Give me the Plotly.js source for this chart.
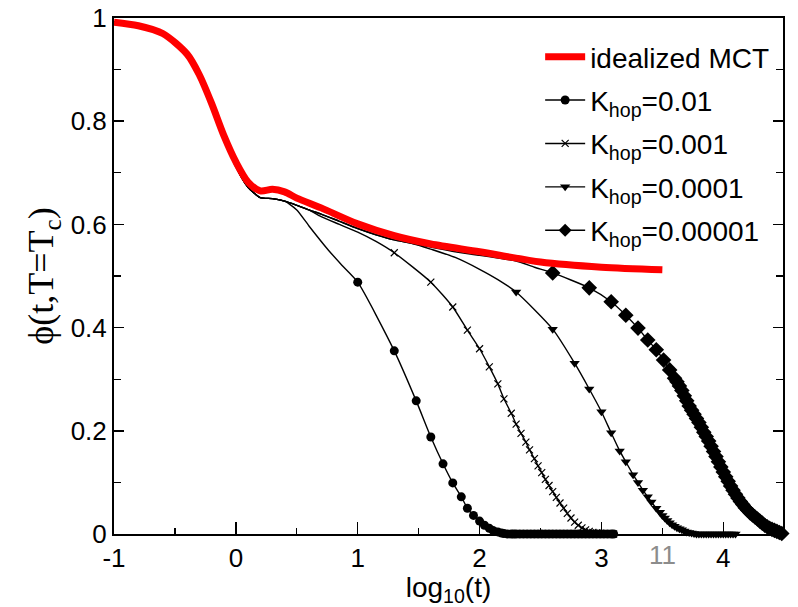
<!DOCTYPE html>
<html>
<head>
<meta charset="utf-8">
<script src="https://cdn.plot.ly/plotly-3.0.1.min.js"></script>
<style>html,body{margin:0;padding:0;background:#fff;}#chart{width:798px;height:607px;}</style>
</head>
<body>
<div id="chart"></div>
<script>
// ---- data (x = log10(t), y = phi) ----
const mctX = [-1, -0.8, -0.6, -0.4, -0.3, -0.2, -0.1, 0, 0.1, 0.2, 0.3, 0.4, 0.5, 0.7, 1.0, 1.3, 1.6, 2.0, 2.5, 3.0, 3.5];
const mctY = [0.992, 0.985, 0.970, 0.930, 0.890, 0.835, 0.773, 0.721, 0.682, 0.665, 0.668, 0.663, 0.651, 0.632, 0.601, 0.578, 0.562, 0.547, 0.527, 0.517, 0.512];

// shared short-time part of the black curves
const earlyX = [-1, -0.8, -0.6, -0.4, -0.3, -0.2, -0.1, 0, 0.1, 0.2, 0.3, 0.4];
const earlyY = [0.992, 0.985, 0.969, 0.928, 0.887, 0.832, 0.768, 0.712, 0.672, 0.652, 0.650, 0.645];
// shared plateau part (just below the red curve)
const plateauX = [0.5, 0.6, 0.7, 0.85, 1.0, 1.15, 1.3, 1.45, 1.6, 1.8, 2.0, 2.15, 2.3, 2.45];
const plateauY = [0.637, 0.628, 0.620, 0.606, 0.592, 0.580, 0.570, 0.563, 0.556, 0.547, 0.540, 0.535, 0.529, 0.520];

// K_hop = 0.01 (circles)
const k1DepX = [0.5, 0.6, 0.76, 0.87];
const k1DepY = [0.628, 0.597, 0.550, 0.521];
const k1X = [1.00,1.30,1.48,1.60,1.70,1.78,1.85,1.90,1.95,2.00,2.04,2.08,2.11,2.15,2.18,2.20,2.23,2.26,2.28,2.30,2.33,2.36,2.39,2.42,2.45,2.48,2.51,2.54,2.57,2.60,2.63,2.66,2.69,2.72,2.75,2.78,2.81,2.84,2.87,2.90,2.93,2.96,2.99,3.02,3.05,3.08,3.10];
const k1Y = [0.488,0.355,0.258,0.188,0.136,0.099,0.072,0.050,0.036,0.025,0.017,0.011,0.007,0.004,0.002,0.001,0,0,0,0,0,0,0,0,0,0,0,0,0,0,0,0,0,0,0,0,0,0,0,0,0,0,0,0,0,0,0];

// K_hop = 0.001 (crosses)
const k2DepX = [0.7, 0.85, 1.0, 1.15];
const k2DepY = [0.615, 0.600, 0.585, 0.567];
const k2X = [1.30,1.60,1.78,1.90,2.00,2.08,2.15,2.20,2.26,2.30,2.34,2.38,2.41,2.45,2.48,2.51,2.54,2.57,2.60,2.63,2.66,2.69,2.72,2.75,2.78,2.81,2.84,2.87,2.90,2.93,2.96,2.99,3.02,3.05,3.08,3.10];
const k2Y = [0.545,0.488,0.440,0.395,0.359,0.324,0.291,0.262,0.234,0.213,0.195,0.178,0.163,0.146,0.132,0.119,0.106,0.094,0.082,0.071,0.060,0.050,0.040,0.031,0.023,0.017,0.012,0.008,0.005,0.003,0.002,0.001,0,0,0,0];

// K_hop = 0.0001 (down triangles)
const k3DepX = [1.6, 1.8, 2.0, 2.15];
const k3DepY = [0.552, 0.536, 0.513, 0.493];
const k3X = [2.30,2.60,2.78,2.90,3.00,3.08,3.15,3.20,3.26,3.30,3.34,3.38,3.41,3.45,3.48,3.50,3.52,3.54,3.56,3.58,3.60,3.62,3.64,3.66,3.68,3.70,3.72,3.74,3.76,3.78,3.80,3.82,3.84,3.86,3.88,3.90,3.92,3.94,3.96,3.98,4.00,4.02,4.04,4.06,4.08,4.10];
const k3Y = [0.469,0.397,0.331,0.281,0.237,0.196,0.161,0.140,0.115,0.100,0.085,0.072,0.062,0.050,0.042,0.036,0.031,0.026,0.022,0.018,0.015,0.012,0.010,0.008,0.006,0.004,0.003,0.002,0.001,0,0,0,0,0,0,0,0,0,0,0,0,0,0,0,0,0];

// K_hop = 0.00001 (diamonds)
const k4DepX = [2.45];
const k4DepY = [0.517];
const k4X = [2.60,2.90,3.08,3.20,3.30,3.38,3.45,3.51,3.56,3.60,3.62,3.64,3.66,3.68,3.70,3.72,3.74,3.76,3.78,3.80,3.82,3.84,3.86,3.88,3.90,3.92,3.94,3.96,3.98,4.00,4.02,4.04,4.06,4.08,4.10,4.12,4.14,4.16,4.18,4.20,4.22,4.24,4.26,4.28,4.30,4.32,4.34,4.36,4.38,4.40,4.42,4.44,4.46,4.48];
const k4Y = [0.506,0.477,0.450,0.424,0.399,0.376,0.357,0.337,0.318,0.302,0.295,0.287,0.278,0.268,0.258,0.248,0.240,0.232,0.224,0.216,0.207,0.197,0.189,0.180,0.170,0.160,0.150,0.140,0.130,0.120,0.111,0.102,0.093,0.085,0.077,0.070,0.063,0.057,0.051,0.046,0.041,0.037,0.033,0.029,0.025,0.021,0.017,0.014,0.011,0.009,0.007,0.005,0.003,0.001];

const xTickVals = [-1, 0, 1, 2, 3, 4];
const xTickText = ['-1', '0', '1', '2', '3', '4'];
const legendNames = ['idealized MCT', 'K<sub>hop</sub>=0.01', 'K<sub>hop</sub>=0.001', 'K<sub>hop</sub>=0.0001', 'K<sub>hop</sub>=0.00001'];

// ---- build traces ----
const series = [
  {depX: k1DepX, depY: k1DepY, nPlat: 0, mx: k1X, my: k1Y, sym: 'circle', size: 9},
  {depX: k2DepX, depY: k2DepY, nPlat: 2, mx: k2X, my: k2Y, sym: 'x-thin', size: 7},
  {depX: k3DepX, depY: k3DepY, nPlat: 8, mx: k3X, my: k3Y, sym: 'triangle-down', size: 9},
  {depX: k4DepX, depY: k4DepY, nPlat: 13, mx: k4X, my: k4Y, sym: 'diamond', size: 12}
];
const traces = [];
series.forEach(s => {
  const lx = earlyX.concat(plateauX.slice(0, s.nPlat), s.depX, s.mx);
  const ly = earlyY.concat(plateauY.slice(0, s.nPlat), s.depY, s.my);
  traces.push({x: lx, y: ly, mode: 'lines', line: {color: 'black', width: 1.4, shape: 'spline', smoothing: 0.6}, showlegend: false, hoverinfo: 'skip'});
  traces.push({x: s.mx, y: s.my, mode: 'markers', cliponaxis: false, showlegend: false,
    marker: {symbol: s.sym, size: s.size, color: 'black', line: {color: 'black', width: s.sym === 'x-thin' ? 1.2 : 0}}});
});
traces.push({x: mctX, y: mctY, mode: 'lines', line: {color: '#ff0000', width: 7, shape: 'spline', smoothing: 0.8}, showlegend: false});

// legend-only entries
traces.push({x: [null], y: [null], mode: 'lines', name: legendNames[0], legendgroup: 'g0', line: {color: '#ff0000', width: 7}});
series.forEach((s, i) => {
  traces.push({x: [null], y: [null], mode: 'lines+markers', name: legendNames[i + 1], legendgroup: 'g' + (i + 1),
    line: {color: 'black', width: 1.4},
    marker: {symbol: s.sym, size: Math.min(s.size, 10), color: 'black', line: {color: 'black', width: s.sym === 'x-thin' ? 1.2 : 0}}});
});

const layout = {
  width: 798, height: 607,
  margin: {l: 114, r: 15, t: 18, b: 73},
  paper_bgcolor: 'white', plot_bgcolor: 'white',
  font: {family: 'Liberation Sans, Arial, sans-serif', color: 'black', size: 26},
  showlegend: true,
  legend: {x: 0.637, y: 0.973, xanchor: 'left', yanchor: 'top', bgcolor: 'rgba(0,0,0,0)',
    font: {size: 28, family: 'Liberation Sans, Arial, sans-serif'}, itemwidth: 40,
    traceorder: 'grouped', tracegroupgap: 4},
  xaxis: {
    range: [-1, 4.49], tickmode: 'array', tickvals: xTickVals, ticktext: xTickText,
    ticks: 'inside', ticklen: 12, tickwidth: 1.5, tickcolor: 'black',
    minor: {tickmode: 'linear', tick0: 0, dtick: 0.5, ticks: 'inside', ticklen: 6, tickwidth: 1.2, tickcolor: 'black'},
    showline: true, linewidth: 2, linecolor: 'black', mirror: true,
    showgrid: false, zeroline: false, tickfont: {size: 26},
    title: {text: 'log<sub>10</sub>(t)', font: {size: 28}, standoff: 6}
  },
  yaxis: {
    range: [0, 1], tickmode: 'linear', tick0: 0, dtick: 0.2,
    ticks: 'inside', ticklen: 10, tickwidth: 1.5, tickcolor: 'black',
    minor: {tickmode: 'linear', tick0: 0, dtick: 0.1, ticks: 'inside', ticklen: 7, tickwidth: 1.2, tickcolor: 'black'},
    showline: true, linewidth: 2, linecolor: 'black', mirror: 'ticks',
    showgrid: false, zeroline: false, tickfont: {size: 26}, ticklabelstandoff: 0,
    title: {text: 'ϕ(t,T=T<sub>c</sub>)\u00A0\u00A0\u00A0\u00A0', font: {family: 'Liberation Serif, Times New Roman, serif', size: 36}, standoff: 6}
  },
  annotations: [{x: 3.5, y: 0, xref: 'x', yref: 'paper', yanchor: 'top', yshift: -4, showarrow: false,
    text: '11', font: {size: 26, color: '#8c8c8c'}}]
};

Plotly.newPlot('chart', traces, layout, {displayModeBar: false, staticPlot: true});
</script>
</body>
</html>
